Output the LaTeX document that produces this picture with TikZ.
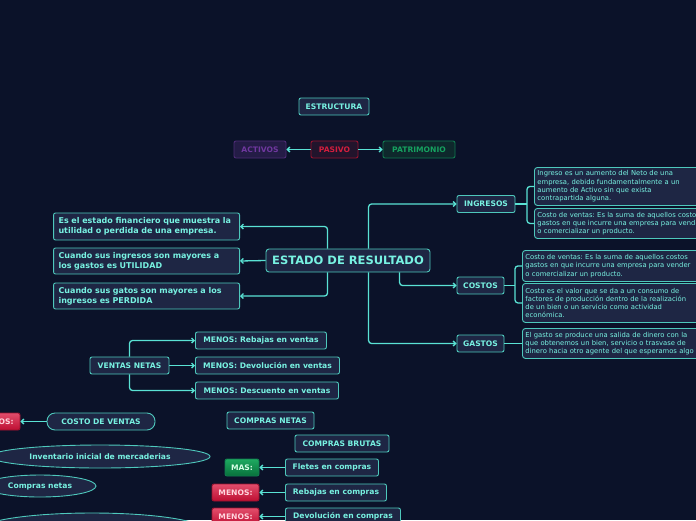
\documentclass[tikz,border=0pt]{standalone}
\usepackage{fontspec}
\setmainfont{DejaVu Sans}
\frenchspacing
\usetikzlibrary{positioning, arrows.meta, shapes.geometric}
\definecolor{BgColour}{RGB}{11,18,41}
\definecolor{FillColour}{RGB}{30,38,68}
\definecolor{EdgeColour}{RGB}{78,200,188}
\definecolor{InkColour}{RGB}{120,242,226}
\definecolor{LinkColour}{RGB}{90,226,212}
\definecolor{PurpleEdge}{RGB}{78,44,118}
\definecolor{PurpleFill}{RGB}{36,28,70}
\definecolor{PurpleInk}{RGB}{112,56,160}
\definecolor{RedEdge}{RGB}{150,18,46}
\definecolor{RedFill}{RGB}{34,20,44}
\definecolor{RedInk}{RGB}{212,30,62}
\definecolor{GreenEdge}{RGB}{16,122,78}
\definecolor{GreenFill}{RGB}{14,40,44}
\definecolor{GreenInk}{RGB}{22,162,96}

\begin{document}
\begin{tikzpicture}[
  x=1pt, y=-1pt,
  box/.style={draw=EdgeColour, fill=FillColour, text=InkColour, line width=0.9pt,
    rounded corners=2pt, font=\bfseries\fontsize{7.6}{10}\selectfont,
    inner xsep=5pt, inner ysep=2pt, minimum height=17pt},
  textbox/.style={box, font=\bfseries\fontsize{8}{10}\selectfont, text width=176pt,
    align=left, minimum height=26pt, anchor=east},
  note/.style={box, font=\fontsize{6.8}{8.3}\selectfont, align=left,
    anchor=north west, inner xsep=3pt, inner ysep=2.5pt, rounded corners=3pt},
  bubble/.style={box, ellipse, rounded corners=0pt, inner sep=0pt},
  purplebox/.style={box, draw=PurpleEdge, fill=PurpleFill, text=PurpleInk},
  redbox/.style={box, draw=RedEdge, fill=RedFill, text=RedInk},
  greenbox/.style={box, draw=GreenEdge, fill=GreenFill, text=GreenInk},
  minusbox/.style={box, draw=RedEdge, top color={rgb,255:red,226;green,78;blue,108},
    bottom color={rgb,255:red,190;green,14;blue,50}, text={rgb,255:red,255;green,214;blue,222}},
  plusbox/.style={box, draw=GreenEdge, top color={rgb,255:red,30;green,170;blue,96},
    bottom color={rgb,255:red,8;green,112;blue,60}, text={rgb,255:red,214;green,255;blue,230}},
  link/.style={draw=LinkColour, line width=1.3pt},
  arr/.style={link, rounded corners=3pt, -{Straight Barb[length=2.5pt,width=5pt]}}
]
\useasboundingbox (0,0) rectangle (696,520);
\clip (0,0) rectangle (696,520);
\fill[BgColour] (0,0) rectangle (696,520);

% balance general
\node[box, minimum width=70pt] (estructura) at (334,106.5) {ESTRUCTURA};
\node[purplebox, minimum width=52pt] (activos) at (260,149.5) {ACTIVOS};
\node[redbox, minimum width=47pt] (pasivo) at (334.5,149.5) {PASIVO};
\node[greenbox, minimum width=72pt] (patrimonio) at (419,149.5) {PATRIMONIO};
\draw[arr] (pasivo) -- (activos);
\draw[arr] (pasivo) -- (patrimonio);

% estado de resultado
\node[box, font=\bfseries\fontsize{11.5}{14}\selectfont, minimum width=164pt,
  minimum height=23pt, rounded corners=3pt] (resultado) at (348,260.5) {ESTADO DE RESULTADO};
\node[textbox, minimum height=27pt] (definicion) at (240,226.5)
  {Es el estado financiero que muestra la\\utilidad o perdida de una empresa.};
\node[textbox] (utilidad) at (240,261)
  {Cuando sus ingresos son mayores a\\los gastos es UTILIDAD};
\node[textbox] (perdida) at (240,296)
  {Cuando sus gatos son mayores a los\\ingresos es PERDIDA};
\draw[arr] ([xshift=62pt]resultado.north west) |- (definicion.east);
\draw[arr] (resultado.west) -- (utilidad.east);
\draw[arr] ([xshift=62pt]resultado.south west) |- (perdida.east);

\node[box, minimum width=58pt] (ingresos) at (486,204) {INGRESOS};
\node[box, minimum width=47pt] (costos) at (480.5,285.5) {COSTOS};
\node[box, minimum width=47pt] (gastos) at (480.5,343.5) {GASTOS};
\draw[arr] ([xshift=103pt]resultado.north west) |- (ingresos.west);
\draw[arr] ([xshift=134pt]resultado.south west) |- (costos.west);
\draw[arr] ([xshift=103pt]resultado.south west) |- (gastos.west);

\node[note, text width=190pt, minimum height=38pt] (ingreso1) at (534,167)
  {Ingreso es un aumento del Neto de una\\empresa, debido fundamentalmente a un\\aumento de Activo sin que exista\\contrapartida alguna.};
\node[note, text width=190pt, minimum height=30pt] (ingreso2) at (534,208)
  {Costo de ventas: Es la suma de aquellos costos\\gastos en que incurre una empresa para vender\\o comercializar un producto.};
\node[note, text width=190pt, minimum height=31pt] (costo1) at (522,250)
  {Costo de ventas: Es la suma de aquellos costos\\gastos en que incurre una empresa para vender\\o comercializar un producto.};
\node[note, text width=190pt, minimum height=39pt] (costo2) at (522,283)
  {Costo es el valor que se da a un consumo de\\factores de producción dentro de la realización\\de un bien o un servicio como actividad\\económica.};
\node[note, text width=190pt, minimum height=30pt] (gasto1) at (522,328)
  {El gasto se produce una salida de dinero con la\\que obtenemos un bien, servicio o trasvase de\\dinero hacia otro agente del que esperamos algo};
\draw[link] (ingresos.east) -- ([xshift=-7pt]ingreso1.west |- ingresos.east);
\draw[link, rounded corners=3pt] (ingreso1.west) -- ++(-7,0) |- (ingreso2.west);
\draw[link] (costos.east) -- ([xshift=-7pt]costo1.west |- costos.east);
\draw[link, rounded corners=3pt] (costo1.west) -- ++(-7,0) |- (costo2.west);
\draw[link] (gastos.east) -- (gastos.east -| gasto1.west);

% ventas netas
\node[box, minimum width=79pt] (ventas) at (129.5,365.5) {VENTAS NETAS};
\node[box, minimum width=131pt, anchor=west] (rebajasv) at (195,340.5) {MENOS: Rebajas en ventas};
\node[box, minimum width=144pt, anchor=west] (devolucionv) at (195,365.5) {MENOS: Devolución en ventas};
\node[box, minimum width=143pt, anchor=west] (descuentov) at (195,390.5) {MENOS: Descuento en ventas};
\draw[arr] (ventas.north) |- (rebajasv.west);
\draw[arr] (ventas.east) -- (devolucionv.west);
\draw[arr] (ventas.south) |- (descuentov.west);

% costo de ventas
\node[box, minimum width=108pt, rounded corners=8pt] (costoventas) at (101,421.5) {COSTO DE VENTAS};
\node[minusbox, minimum width=47pt] (menos0) at (-3.5,421.5) {MENOS:};
\draw[arr] (costoventas) -- (menos0);
\node[bubble, minimum width=220pt, minimum height=23pt] (inventario) at (100,456.5) {Inventario inicial de mercaderias};
\node[bubble, minimum width=112pt, minimum height=22pt] (comprasnetas) at (40,486) {Compras netas};
\node[bubble, minimum width=224pt, minimum height=34pt] (otra) at (92,530) {};

% compras
\node[box, minimum width=87pt] (netas) at (270.5,420.5) {COMPRAS NETAS};
\node[box, minimum width=94pt] (brutas) at (342,443.5) {COMPRAS BRUTAS};
\node[plusbox, minimum width=34pt] (mas) at (242,467.5) {MAS:};
\node[minusbox, minimum width=47pt] (menos1) at (235.5,492.5) {MENOS:};
\node[minusbox, minimum width=47pt] (menos2) at (235.5,516.5) {MENOS:};
\node[box, minimum width=93pt, anchor=west] (fletes) at (285,467.5) {Fletes en compras};
\node[box, minimum width=101pt, anchor=west] (rebajasc) at (285,492.5) {Rebajas en compras};
\node[box, minimum width=115pt, anchor=west] (devolucionc) at (285,516.5) {Devolución en compras};
\draw[arr] (fletes) -- (mas);
\draw[arr] (rebajasc) -- (menos1);
\draw[arr] (devolucionc) -- (menos2);
\end{tikzpicture}
\end{document}
